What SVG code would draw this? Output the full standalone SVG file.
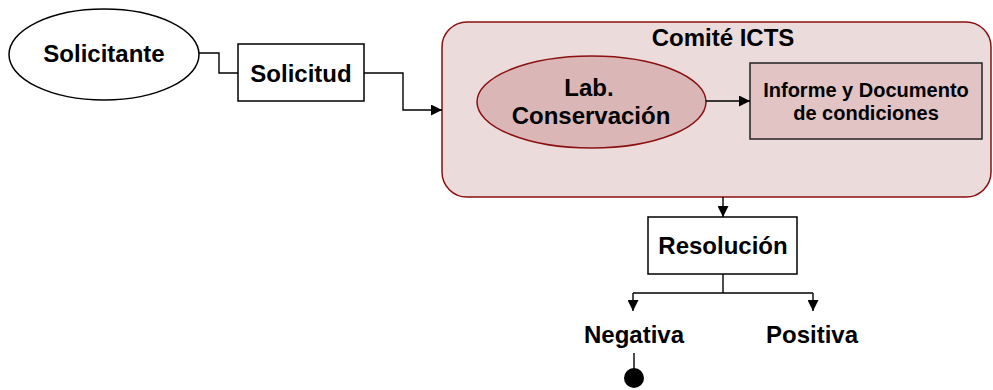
<svg xmlns="http://www.w3.org/2000/svg" width="993" height="390" viewBox="0 0 993 390">
<style>
  text { font-family: "Liberation Sans", Arial, sans-serif; font-weight: bold; fill: #000; text-anchor: middle; }
  .big { font-size: 24px; }
  .mid { font-size: 20px; }
  .conn { fill: none; stroke: #000; stroke-width: 1.4; }
  .box { fill: #fff; stroke: #000; stroke-width: 1.5; }
</style>
<defs>
  <marker id="arrow" viewBox="0 0 11 11" refX="11" refY="5.5" markerWidth="11" markerHeight="11" markerUnits="userSpaceOnUse" orient="auto">
    <path d="M0,0 L11,5.5 L0,11 Z" fill="#000"/>
  </marker>
</defs>
<rect width="993" height="390" fill="#fff"/>

<g id="comite">
  <rect x="442" y="22" width="549" height="175" rx="25" ry="25" fill="#ECDBDB" stroke="#8B0F0F" stroke-width="1.5"/>
  <text class="big" x="723" y="46">Comité ICTS</text>
</g>

<g id="solicitante">
  <ellipse cx="104" cy="54.5" rx="95" ry="45.5" fill="#fff" stroke="#000" stroke-width="1.5"/>
  <text class="big" x="104" y="62">Solicitante</text>
</g>

<g id="solicitud">
  <rect class="box" x="238" y="44" width="126" height="57"/>
  <text class="big" x="301" y="82">Solicitud</text>
</g>

<g id="lab">
  <ellipse cx="591.5" cy="102" rx="114.5" ry="46" fill="#DAB6B6" stroke="#8B0F0F" stroke-width="1.5"/>
  <text class="big" x="589" y="96">Lab.</text>
  <text class="big" x="591" y="124">Conservación</text>
</g>

<g id="informe">
  <rect x="750" y="63" width="232" height="76" fill="#E2C4C5" stroke="#222" stroke-width="1.5"/>
  <text class="mid" x="866" y="97">Informe y Documento</text>
  <text class="mid" x="866" y="120">de condiciones</text>
</g>

<g id="resolucion">
  <rect class="box" x="648" y="217" width="149" height="57"/>
  <text class="big" x="723" y="254">Resolución</text>
</g>

<g id="negativa">
  <text class="big" x="634" y="343">Negativa</text>
</g>

<g id="positiva">
  <text class="big" x="812" y="343">Positiva</text>
</g>

<g id="fin">
  <circle cx="634" cy="378" r="10" fill="#000"/>
</g>

<g id="connectors">
  <polyline class="conn" points="199,53 219,53 219,73 238,73"/>
  <polyline class="conn" points="364,73 403,73 403,110 442,110" marker-end="url(#arrow)"/>
  <line class="conn" x1="706" y1="101" x2="750" y2="101" marker-end="url(#arrow)"/>
  <line class="conn" x1="723" y1="197" x2="723" y2="217" marker-end="url(#arrow)"/>
  <polyline class="conn" points="723,274 723,293"/>
  <polyline class="conn" points="633,293 813,293"/>
  <line class="conn" x1="633" y1="293" x2="633" y2="311" marker-end="url(#arrow)"/>
  <line class="conn" x1="813" y1="293" x2="813" y2="311" marker-end="url(#arrow)"/>
  <line class="conn" x1="634" y1="353" x2="634" y2="370"/>
</g>
</svg>
